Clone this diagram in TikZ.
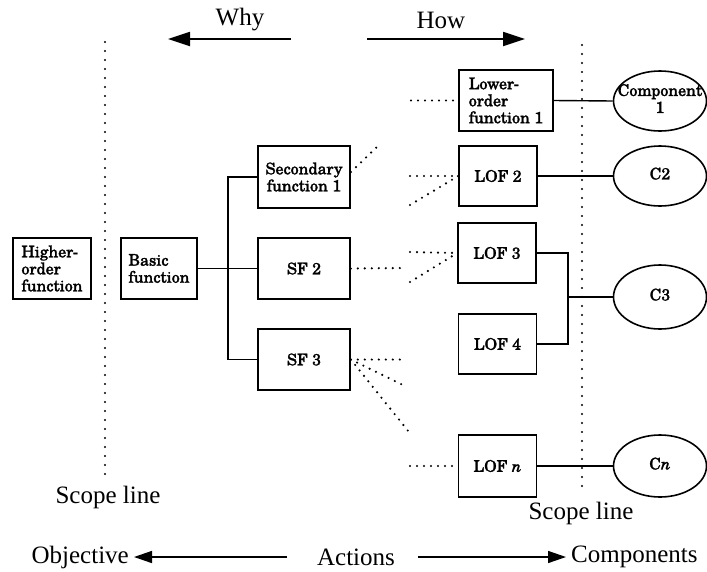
\documentclass[tikz,border=0pt]{standalone}
\usepackage{fontspec}
\setmainfont{Liberation Serif}
\newfontfamily\boxfont[FakeBold=1.6]{TeX Gyre Schola}
\usetikzlibrary{arrows.meta,shapes.geometric}

\tikzset{
  fnbox/.style={draw, line width=1.6pt, rectangle, inner sep=0pt, align=left,
    font=\boxfont\fontsize{16}{17}\selectfont},
  wide/.style={minimum width=92pt, minimum height=62pt},
  narrow/.style={minimum width=78pt, minimum height=61pt},
  comp/.style={draw, line width=1.6pt, ellipse, inner sep=0pt,
    minimum width=93pt, minimum height=60pt,
    font=\boxfont\fontsize{16}{17}\selectfont},
  link/.style={line width=1.4pt},
  dotline/.style={line width=2.4pt, line cap=round, dash pattern=on 0pt off 7pt},
  scopeline/.style={line width=2.2pt, line cap=round, dash pattern=on 0pt off 9pt},
  label/.style={font=\fontsize{25}{28}\selectfont, inner sep=0pt},
  bigarrow/.style={line width=1.8pt, -{Triangle[length=22pt,width=14pt]}},
  smallarrow/.style={line width=1.5pt, -{Triangle[length=18pt,width=12pt]}}
}
\newcommand{\ctr}[1]{\makebox[0pt][c]{\begin{tabular}{@{}c@{}}#1\end{tabular}}}

\begin{document}
\begin{tikzpicture}[x=1pt, y=-1pt]
\useasboundingbox (0,0) rectangle (707,571);

% Direction arrows at the top
\node[label] (why) at (240,20) {Why};
\node[label] (how) at (441,20) {How};
\coordinate (whyS) at (291,39);
\coordinate (whyE) at (168,39);
\coordinate (howS) at (367,39);
\coordinate (howE) at (525,39);
\draw[bigarrow] (whyS) -- (whyE);
\draw[bigarrow] (howS) -- (howE);

% Scope lines
\coordinate (slT) at (105,42);
\coordinate (slB) at (105,478);
\coordinate (srT) at (582,45);
\coordinate (srB) at (582,488);
\draw[scopeline] (slT) -- (slB);
\draw[scopeline] (srT) -- (srB);
\node[label] (scopeL) at (108,497) {Scope line};
\node[label] (scopeR) at (581,513) {Scope line};

% Function boxes
\node[fnbox, minimum width=78pt, minimum height=61pt] (higher) at (52,268.5) {Higher-\\order\\function};
\node[fnbox, minimum width=76pt, minimum height=61pt] (basic) at (159,268.5) {Basic\\function};
\node[fnbox, wide, align=center] (sf1) at (304,177) {Secondary\\function 1};
\node[fnbox, wide, minimum height=61pt] (sf2) at (304,268.5) {SF 2};
\node[fnbox, wide, minimum height=61pt] (sf3) at (304,359.5) {SF 3};
\node[fnbox, minimum width=94pt, minimum height=61pt] (lof1) at (506,100.5) {Lower-\\order\\function 1};
\node[fnbox, narrow, minimum height=60pt] (lof2) at (498,176) {LOF 2};
\node[fnbox, narrow, minimum height=60pt] (lof3) at (497,253) {LOF 3};
\node[fnbox, narrow, minimum height=60pt] (lof4) at (497.5,344) {LOF 4};
\node[fnbox, narrow, minimum height=62pt] (lofn) at (497.5,466) {LOF \textit{n}};

% Components
\node[comp] (c1) at (660,101) {\ctr{Component\\1}};
\node[comp] (c2) at (660,176) {\ctr{C2}};
\node[comp, minimum height=64pt] (c3) at (660,297) {\ctr{C3}};
\node[comp, minimum height=62pt] (cn) at (660,466) {\ctr{C\textit{n}}};

% Solid connectors
\coordinate (bus) at (228,0);
\draw[link] (basic.east) -- (sf2.west);
\draw[link] (sf1.west) -- (sf1.west -| bus) -- (sf3.west -| bus) -- (sf3.west);
\draw[link] (lof1.east) -- (c1.west);
\draw[link] (lof2.east) -- (c2.west);
\coordinate (join) at (568,297);
\draw[link] (lof3.east) -| (join) |- (lof4.east);
\draw[link] (join) -- (c3.west);
\draw[link] (lofn.east) -- (cn.west);

% Dotted open-ended links
\coordinate (d1) at (411,100.5);
\draw[dotline] (d1) -- (lof1.west);
\coordinate (s1a) at (351,172);
\coordinate (s1b) at (381,143);
\draw[dotline] (s1a) -- (s1b);
\coordinate (d2a) at (410,176);
\coordinate (d2b) at (410,205);
\draw[dotline] (d2a) -- (lof2.west);
\draw[dotline] (d2b) -- (lof2.west);
\coordinate (s2) at (404,268);
\draw[dotline] (sf2.east) -- (s2);
\coordinate (d3a) at (410,252);
\coordinate (d3b) at (410,282);
\draw[dotline] (d3a) -- (lof3.west);
\draw[dotline] (d3b) -- (lof3.west);
\coordinate (s3a) at (404,359.5);
\coordinate (s3b) at (407,387);
\coordinate (s3c) at (409,432);
\draw[dotline] (sf3.east) -- (s3a);
\draw[dotline] (sf3.east) -- (s3b);
\draw[dotline] (sf3.east) -- (s3c);
\coordinate (dn) at (410,466);
\draw[dotline] (dn) -- (lofn.west);

% Bottom legend
\node[label, anchor=east] (obj) at (129,557) {Objective};
\node[label] (act) at (356,557) {Actions};
\node[label, anchor=west] (cmp) at (571,557) {Components};
\coordinate (a1s) at (287,557);
\coordinate (a1e) at (134,557);
\coordinate (a2s) at (418,557);
\coordinate (a2e) at (566,557);
\draw[smallarrow] (a1s) -- (a1e);
\draw[smallarrow] (a2s) -- (a2e);
\end{tikzpicture}
\end{document}
